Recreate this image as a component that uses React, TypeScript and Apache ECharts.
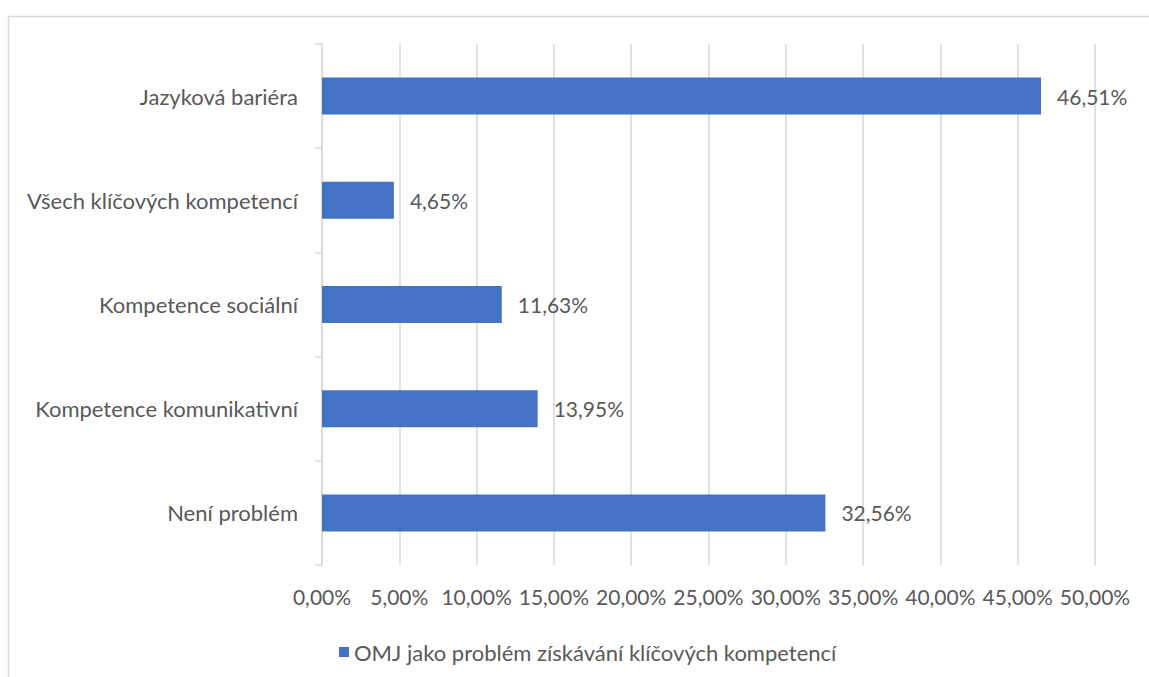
import React, { useEffect, useRef } from "react";
import * as echarts from "echarts";

const categories = [
  "Jazyková bariéra",
  "Všech klíčových kompetencí",
  "Kompetence sociální",
  "Kompetence komunikativní",
  "Není problém",
];
const values = [46.51, 4.65, 11.63, 13.95, 32.56];
const seriesName = "OMJ jako problém získávání klíčových kompetencí";
const axisMax = 50;
const axisStep = 5;

const FONT = "Lato, 'Open Sans', sans-serif";
const FS_NUM = 21;
const FS_TEXT = 22;
const TEXT = "#595959";
const GRID = "#d9d9d9";
const BAR = "#4472C4";

const pct = (v: number) => v.toFixed(2).replace(".", ",") + "%";

export default function App() {
  const ref = useRef<HTMLDivElement>(null);

  useEffect(() => {
    if (!ref.current) return;
    const chart = echarts.init(ref.current, null, { renderer: "svg" });
    chart.setOption({
      animation: false,
      backgroundColor: "#ffffff",
      textStyle: { fontFamily: FONT },
      graphic: [
        {
          type: "rect",
          shape: { x: 8.5, y: 16.5, width: 1200, height: 700 },
          style: { fill: "none", stroke: GRID, lineWidth: 1.5 },
          silent: true,
        },
      ],
      grid: { left: 322, right: 54, top: 44, bottom: 112, containLabel: false },
      legend: {
        left: 334,
        top: 636,
        itemWidth: 10,
        itemHeight: 10,
        itemGap: 10,
        icon: "rect",
        textStyle: { color: TEXT, fontSize: FS_TEXT, fontFamily: FONT },
        data: [seriesName],
      },
      xAxis: {
        type: "value",
        min: 0,
        max: axisMax,
        interval: axisStep,
        axisLine: { show: false },
        axisTick: { show: false },
        splitLine: { lineStyle: { color: GRID, width: 1.5 } },
        axisLabel: {
          color: TEXT,
          fontSize: FS_NUM,
          fontFamily: FONT,
          margin: 21,
          formatter: (v: number) => pct(v),
        },
      },
      yAxis: {
        type: "category",
        data: categories,
        inverse: true,
        axisLine: { show: true, lineStyle: { color: GRID, width: 1.5 } },
        axisTick: { show: true, length: 7, lineStyle: { color: GRID, width: 1.5 } },
        axisLabel: { color: TEXT, fontSize: FS_TEXT, fontFamily: FONT, margin: 24 },
      },
      series: [
        {
          name: seriesName,
          type: "bar",
          data: values,
          barWidth: 37,
          itemStyle: { color: BAR },
          label: {
            show: true,
            position: "right",
            distance: 16,
            color: TEXT,
            fontSize: FS_NUM,
            fontFamily: FONT,
            formatter: (p: any) => pct(p.value),
          },
        },
      ],
    });
    return () => chart.dispose();
  }, []);

  return (
    <div
      ref={ref}
      style={{ position: "fixed", left: 0, top: 0, width: 1149, height: 677 }}
    />
  );
}
